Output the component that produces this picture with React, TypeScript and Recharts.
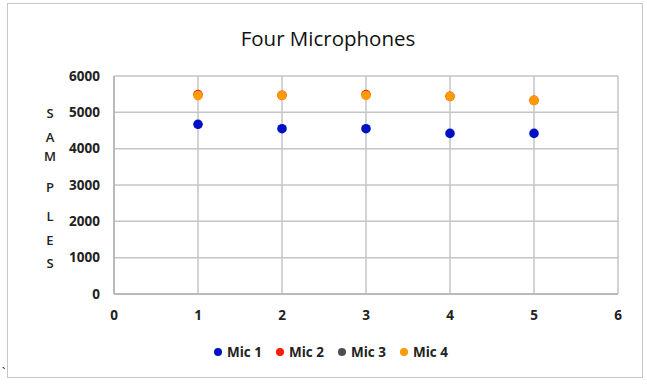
import React from 'react';
import { ScatterChart, Scatter, XAxis, YAxis, ZAxis, CartesianGrid } from 'recharts';

const xValues = [1, 2, 3, 4, 5];
const mic1 = [4670, 4550, 4550, 4420, 4420];
const mic2 = [5490, 5470, 5490, 5440, 5330];
const mic3 = [5460, 5465, 5465, 5440, 5330];
const mic4 = [5460, 5465, 5465, 5440, 5330];
const seriesNames = ['Mic 1', 'Mic 2', 'Mic 3', 'Mic 4'];
const seriesColors = ['#0011c4', '#ff1a00', '#4d4d4d', '#ff9a00'];
const xTicks = [0, 1, 2, 3, 4, 5, 6];
const yTicks = [0, 1000, 2000, 3000, 4000, 5000, 6000];
const yLabelLetters = ['S', 'A', 'M', 'P', 'L', 'E', 'S'];
const yLabelTops = [114, 138, 157, 188, 217, 241, 264];

const allSeries = [mic1, mic2, mic3, mic4].map((vals, i) => ({
  name: seriesNames[i],
  color: seriesColors[i],
  data: xValues.map((x, j) => ({ x, y: vals[j] })),
}));

const font = '"Open Sans", "DejaVu Sans", sans-serif';
const tickStyle = { fontSize: 13.5, fontWeight: 700, fill: '#222', fontFamily: font };

const makeDot = (color: string, r: number) => (props: any) => (
  <circle cx={props.cx} cy={props.cy} r={r} fill={color} />
);

export default function App() {
  return (
    <div style={{ position: 'absolute', left: 0, top: 0, width: 647, height: 385, background: '#fff', fontFamily: font }}>
      <div style={{ position: 'absolute', left: 7, top: 3, width: 636, height: 375, border: '1px solid #c8c8c8', boxSizing: 'border-box' }} />
      <div style={{ position: 'absolute', left: 0, width: 656, top: 24, textAlign: 'center', fontSize: 20.5, color: '#111' }}>Four Microphones</div>
      {yLabelLetters.map((ch, i) => (
        <div key={i} style={{ position: 'absolute', left: 40, width: 20, top: yLabelTops[i] - 10, textAlign: 'center', fontSize: 13, fontWeight: 600, color: '#222' }}>{ch}</div>
      ))}
      <div style={{ position: 'absolute', left: 0, top: 0 }}>
        <ScatterChart width={647} height={385} margin={{ top: 76, right: 29, bottom: 61, left: 64 }}>
          <CartesianGrid stroke="#c4c4c4" strokeWidth={1.5} />
          <XAxis type="number" dataKey="x" domain={[0, 6]} ticks={xTicks} interval={0} axisLine={{ stroke: '#b0b0b0', strokeWidth: 1.5 }} tickLine={false} tick={tickStyle} tickMargin={10} height={30} />
          <YAxis type="number" dataKey="y" domain={[0, 6000]} ticks={yTicks} interval={0} axisLine={{ stroke: '#b0b0b0', strokeWidth: 1.5 }} tickLine={false} tick={tickStyle} tickMargin={8} width={50} />
          <ZAxis range={[64, 64]} />
          {allSeries.map((s, i) => (
            <Scatter key={s.name} name={s.name} data={s.data} fill={s.color} shape={makeDot(s.color, i === 2 ? 3.5 : 4.8)} isAnimationActive={false} />
          ))}
        </ScatterChart>
      </div>
      <div style={{ position: 'absolute', left: 0, width: 647, top: 343, fontSize: 13.5, fontWeight: 700, color: '#222' }}>
        {allSeries.map((s, i) => (
          <div key={s.name} style={{ position: 'absolute', left: 214 + i * 62, display: 'flex', alignItems: 'center', whiteSpace: 'nowrap' }}>
            <span style={{ width: 8, height: 8, borderRadius: 4, background: s.color, display: 'inline-block', marginRight: 5 }} />
            <span>{s.name}</span>
          </div>
        ))}
      </div>
      <div style={{ position: 'absolute', left: 2, top: 364, fontSize: 12 }}>`</div>
    </div>
  );
}
